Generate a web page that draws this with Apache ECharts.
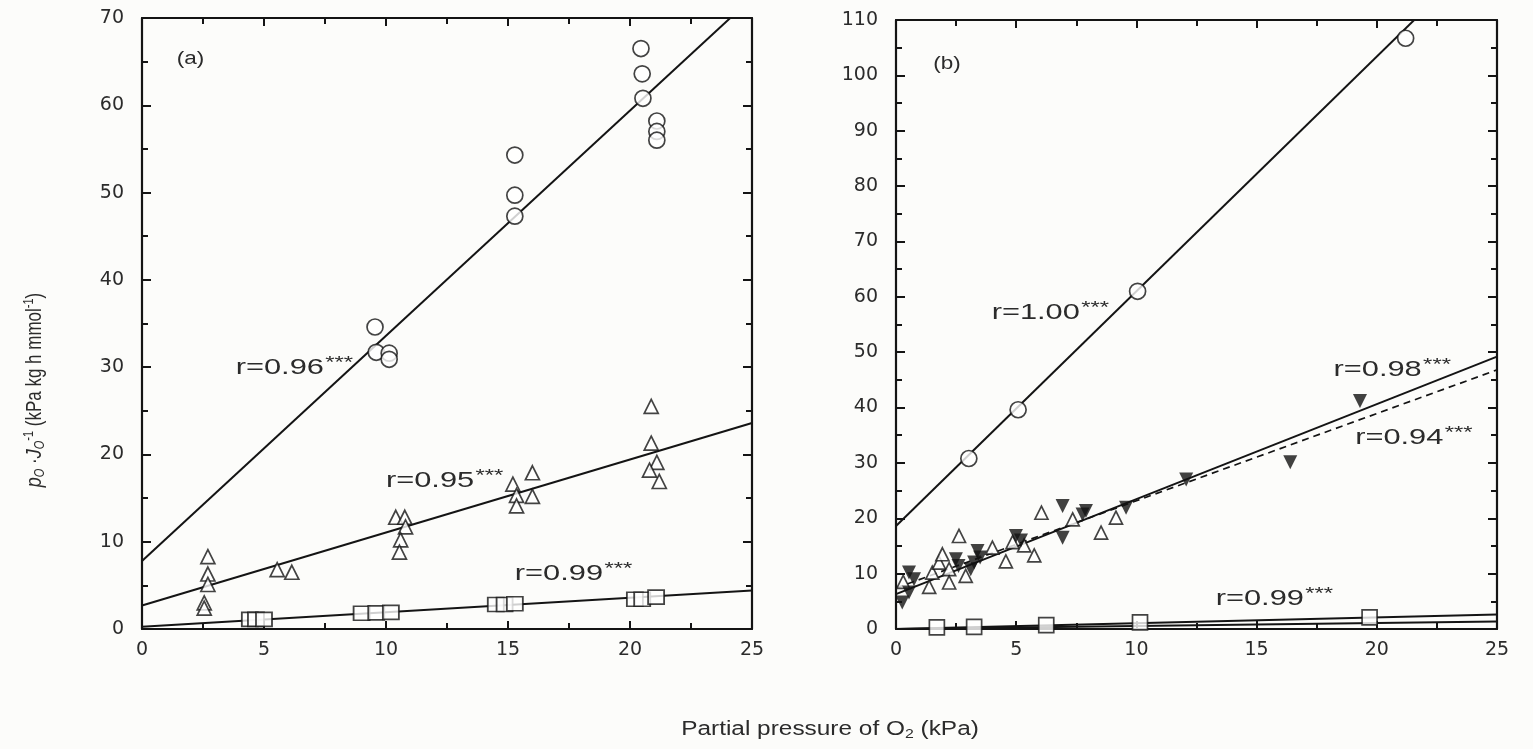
<!DOCTYPE html>
<html>
<head>
<meta charset="utf-8">
<script src="https://cdn.jsdelivr.net/npm/echarts@6/dist/echarts.min.js"></script>
<style>
html,body{margin:0;padding:0;background:#fcfcfa;}
#c{width:1533px;height:749px;}
</style>
</head>
<body>
<div id="c"></div>
<script>
// ---------- DATA ----------
// Panel (a)
var aCircles = [[9.55,34.6],[9.6,31.7],[10.13,31.6],[10.13,30.9],[15.28,54.3],[15.28,49.7],[15.28,47.3],
  [20.45,66.5],[20.5,63.6],[20.53,60.8],[21.1,58.2],[21.1,57.0],[21.1,56.0]];
var aTriangles = [[2.7,8.3],[2.7,6.3],[2.7,5.1],[2.55,3.0],[2.55,2.4],[5.54,6.8],[6.14,6.5],
  [10.4,12.8],[10.77,12.8],[10.8,11.7],[10.6,10.2],[10.55,8.8],
  [15.2,16.6],[15.35,15.3],[15.35,14.1],[16.0,17.9],[16.0,15.2],
  [20.87,25.5],[20.87,21.3],[21.1,19.1],[20.8,18.2],[21.2,16.9]];
var aSquares = [[4.42,1.1],[4.67,1.1],[5.0,1.1],[9.0,1.8],[9.6,1.85],[10.2,1.9],
  [14.5,2.8],[14.86,2.8],[15.28,2.9],[20.2,3.4],[20.5,3.4],[21.07,3.65]];
var aLineCircles = [[0,7.8],[25,72.3]];
var aLineTriangles = [[0,2.7],[25,23.6]];
var aLineSquares = [[0,0.25],[25,4.4]];

// Panel (b)
var bCircles = [[3.03,30.8],[5.08,39.6],[10.05,61.0],[21.2,106.7]];
var bSquares = [[1.7,0.3],[3.25,0.4],[6.25,0.7],[10.15,1.2],[19.7,2.1]];
var bOpenTriangles = [[0.3,8.5],[1.38,7.6],[1.51,10.2],[1.79,12.0],[1.93,13.5],[2.21,10.8],[2.21,8.4],
  [2.62,16.8],[2.9,9.6],[4.01,14.7],[4.57,12.2],[4.85,15.7],[5.33,15.1],[5.75,13.3],
  [6.05,21.0],[7.35,19.8],[8.53,17.4],[9.15,20.1]];
var bFilledTriangles = [[0.26,4.8],[0.54,6.6],[0.54,10.2],[0.75,9.0],[2.49,12.6],[2.6,11.4],[3.11,10.8],
  [3.25,12.0],[3.39,14.1],[3.5,12.9],[4.99,16.8],[5.2,16.0],[6.93,16.5],[6.93,22.2],
  [7.76,20.7],[7.9,21.3],[9.57,21.9],[12.07,27.0],[16.4,30.1],[19.3,41.2]];
var bLineCircles = [[0,18.6],[25,124.6]];
var bLineFilled = [[0,6.3],[25,49.2]];
var bLineOpen = [[0,7.4],[25,46.8]];
var bLineSquares = [[0,0.0],[25,2.6]];
var bLineSquares2 = [[0,0.0],[25,1.35]];

// Axis ranges
var xMax = 25, xStep = 5;
var aYMax = 70, bYMax = 110, yStep = 10;

// Annotations (panel, x, y in data units, text, kind)
var notes = [
  ['a', 1.42, 65.3, '(a)', 'p'],
  ['a', 3.84, 29.9, 'r=0.96', 'r'],
  ['a', 10.0, 17.0, 'r=0.95', 'r'],
  ['a', 15.28, 6.3, 'r=0.99', 'r'],
  ['b', 1.55, 102.0, '(b)', 'p'],
  ['b', 3.98, 57.1, 'r=1.00', 'r'],
  ['b', 18.2, 46.8, 'r=0.98', 'r'],
  ['b', 19.1, 34.6, 'r=0.94', 'r'],
  ['b', 13.3, 5.5, 'r=0.99', 'r']
];

// ---------- CHART ----------
var FONT = 'Liberation Sans, Arial, sans-serif';
var TICKFONT = 'DejaVu Sans, Liberation Sans, sans-serif';
var INK = '#141414';
var TXT = '#2b2b2b';
var chart = echarts.init(document.getElementById('c'));

function xAx(gi, pos, labels) {
  return {
    type:'value', gridIndex:gi, position:pos, min:0, max:xMax, interval:xStep,
    axisLine:{show:true, onZero:false, lineStyle:{color:INK, width:2.2}},
    axisTick:{show:true, inside:true, length:8, lineStyle:{color:INK, width:2}},
    minorTick:{show:true, splitNumber:2, length:6, lineStyle:{color:INK, width:2}},
    splitLine:{show:false},
    axisLabel:{show:labels, color:TXT, fontSize:19, fontFamily:TICKFONT, margin:12}
  };
}
function yAx(gi, pos, max, labels) {
  return {
    type:'value', gridIndex:gi, position:pos, min:0, max:max, interval:yStep,
    axisLine:{show:true, onZero:false, lineStyle:{color:INK, width:2.2}},
    axisTick:{show:true, inside:true, length:9, lineStyle:{color:INK, width:2}},
    minorTick:{show:true, splitNumber:2, length:6, lineStyle:{color:INK, width:2}},
    splitLine:{show:false},
    axisLabel:{show:labels, color:TXT, fontSize:19, fontFamily:TICKFONT, margin:18}
  };
}

var openStyle = {color:'#fff', borderColor:INK, borderWidth:1.7};
function scatter(xi, data, symbol, size, style, rot) {
  return {type:'scatter', xAxisIndex:xi, yAxisIndex:xi, data:data, symbol:symbol,
    symbolSize:size, symbolRotate:rot||0, itemStyle:style, z:5, silent:true};
}
function line(xi, data, dashed, width) {
  return {type:'line', xAxisIndex:xi, yAxisIndex:xi, data:data, symbol:'none', clip:true,
    lineStyle:{color:INK, width:width||2, type:dashed?[7,5]:'solid'}, z:3, silent:true};
}

var option = {
  backgroundColor:'#fcfcfa',
  animation:false,
  grid:[
    {left:142, top:18, width:610, height:611},
    {left:896, top:20, width:601, height:609}
  ],
  xAxis:[ xAx(0,'bottom',true), xAx(0,'top',false), xAx(1,'bottom',true), xAx(1,'top',false) ],
  yAxis:[ yAx(0,'left',aYMax,true), yAx(0,'right',aYMax,false), yAx(1,'left',bYMax,true), yAx(1,'right',bYMax,false) ],
  series:[
    line(0, aLineCircles), line(0, aLineTriangles), line(0, aLineSquares),
    scatter(0, aCircles, 'circle', 16, openStyle),
    scatter(0, aTriangles, 'triangle', 14, openStyle),
    scatter(0, aSquares, 'rect', [16,14], openStyle),
    line(2, bLineCircles), line(2, bLineFilled), line(2, bLineOpen, true, 1.7),
    line(2, bLineSquares), line(2, bLineSquares2),
    scatter(2, bCircles, 'circle', 16, openStyle),
    scatter(2, bSquares, 'rect', 15, openStyle),
    scatter(2, bOpenTriangles, 'triangle', 13, openStyle),
    scatter(2, bFilledTriangles, 'triangle', 14, {color:'#111'}, 180)
  ]
};
chart.setOption(option);

var graphics = [];
notes.forEach(function(n){
  var idx = n[0]==='a' ? 0 : 2;
  var p = chart.convertToPixel({xAxisIndex:idx, yAxisIndex:idx}, [n[1], n[2]]);
  var isR = n[4]==='r';
  graphics.push({type:'text', x:p[0], y:p[1], scaleX: isR ? 1.4 : 1.25, z:10, silent:true, style:{
    text: isR ? (n[3] + '{s|***}') : n[3], align:'left', verticalAlign:'middle',
    fontFamily:FONT, fontSize: isR ? 22 : 18, fill:TXT,
    rich:{s:{fontSize:17, fill:TXT, fontFamily:FONT, padding:[0,0,9,1]}}
  }});
});
// y axis title (rotated)
graphics.push({type:'text', x:35, y:390, rotation:Math.PI/2, scaleY:1.25, silent:true, style:{
  text:'{i|p}{sb|O}{n| ·}{i|J}{sb|O}{sp|-1}{n| (kPa kg h mmol}{sp|-1}{n|)}',
  align:'center', verticalAlign:'middle', fill:TXT,
  rich:{
    i:{fontStyle:'italic', fontSize:18, fontFamily:FONT, fill:TXT},
    n:{fontSize:17, fontFamily:FONT, fill:TXT},
    sb:{fontSize:11, fontStyle:'italic', fontFamily:FONT, fill:TXT, padding:[9,0,0,0]},
    sp:{fontSize:11, fontFamily:FONT, fill:TXT, padding:[0,0,9,0]}
  }
}});
// x axis title
graphics.push({type:'text', x:830, y:729, scaleX:1.22, silent:true, style:{
  text:'Partial pressure of O{sb|2} (kPa)', align:'center', verticalAlign:'middle',
  fontSize:20, fontFamily:FONT, fill:TXT,
  rich:{sb:{fontSize:13, fontFamily:FONT, fill:TXT, padding:[10,0,0,0]}}
}});
chart.setOption({graphic:graphics});
</script>
</body>
</html>
